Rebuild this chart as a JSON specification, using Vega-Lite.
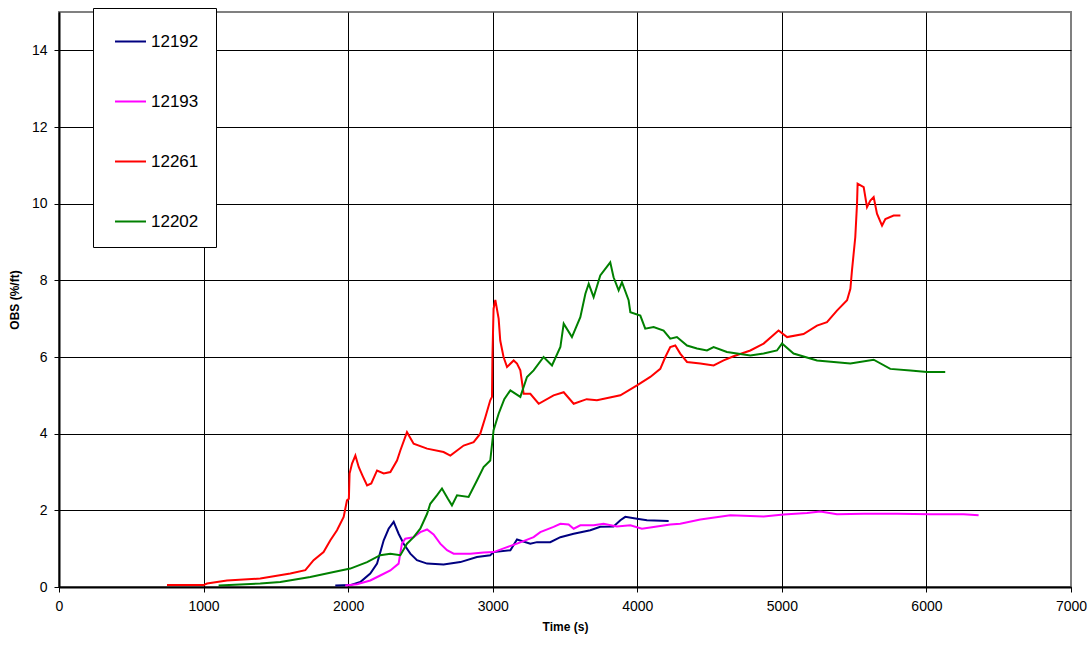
{
  "$schema": "https://vega.github.io/schema/vega-lite/v6.json",
  "width": 1012,
  "height": 575,
  "autosize": "none",
  "padding": {"left": 59, "top": 12, "right": 20, "bottom": 58},
  "background": "white",
  "config": {
    "font": "Liberation Sans",
    "view": {"stroke": "#808080", "strokeWidth": 2}
  },
  "datasets": {
    "obs": [
      {"s":"12192","t":1911,"v":0.04},{"s":"12192","t":2015,"v":0.05},{"s":"12192","t":2084,"v":0.13},{"s":"12192","t":2153,"v":0.35},{"s":"12192","t":2200,"v":0.61},{"s":"12192","t":2246,"v":1.22},{"s":"12192","t":2280,"v":1.52},{"s":"12192","t":2315,"v":1.7},{"s":"12192","t":2349,"v":1.39},{"s":"12192","t":2384,"v":1.13},{"s":"12192","t":2430,"v":0.87},{"s":"12192","t":2476,"v":0.7},{"s":"12192","t":2546,"v":0.61},{"s":"12192","t":2660,"v":0.59},{"s":"12192","t":2776,"v":0.65},{"s":"12192","t":2891,"v":0.78},{"s":"12192","t":2983,"v":0.83},{"s":"12192","t":3006,"v":0.91},{"s":"12192","t":3122,"v":0.96},{"s":"12192","t":3168,"v":1.24},{"s":"12192","t":3260,"v":1.13},{"s":"12192","t":3306,"v":1.17},{"s":"12192","t":3398,"v":1.17},{"s":"12192","t":3468,"v":1.3},{"s":"12192","t":3560,"v":1.39},{"s":"12192","t":3675,"v":1.48},{"s":"12192","t":3744,"v":1.57},{"s":"12192","t":3836,"v":1.58},{"s":"12192","t":3883,"v":1.74},{"s":"12192","t":3917,"v":1.83},{"s":"12192","t":3998,"v":1.78},{"s":"12192","t":4067,"v":1.74},{"s":"12192","t":4217,"v":1.72},
      {"s":"12193","t":1980,"v":0.04},{"s":"12193","t":2061,"v":0.07},{"s":"12193","t":2153,"v":0.17},{"s":"12193","t":2222,"v":0.3},{"s":"12193","t":2292,"v":0.43},{"s":"12193","t":2349,"v":0.61},{"s":"12193","t":2372,"v":1.13},{"s":"12193","t":2395,"v":1.26},{"s":"12193","t":2453,"v":1.3},{"s":"12193","t":2499,"v":1.43},{"s":"12193","t":2546,"v":1.5},{"s":"12193","t":2591,"v":1.37},{"s":"12193","t":2637,"v":1.13},{"s":"12193","t":2684,"v":0.96},{"s":"12193","t":2730,"v":0.87},{"s":"12193","t":2845,"v":0.87},{"s":"12193","t":2937,"v":0.9},{"s":"12193","t":3006,"v":0.91},{"s":"12193","t":3099,"v":1.04},{"s":"12193","t":3168,"v":1.13},{"s":"12193","t":3283,"v":1.3},{"s":"12193","t":3329,"v":1.43},{"s":"12193","t":3421,"v":1.57},{"s":"12193","t":3468,"v":1.65},{"s":"12193","t":3525,"v":1.63},{"s":"12193","t":3560,"v":1.52},{"s":"12193","t":3606,"v":1.61},{"s":"12193","t":3698,"v":1.61},{"s":"12193","t":3767,"v":1.65},{"s":"12193","t":3859,"v":1.58},{"s":"12193","t":3952,"v":1.61},{"s":"12193","t":4032,"v":1.52},{"s":"12193","t":4136,"v":1.58},{"s":"12193","t":4228,"v":1.63},{"s":"12193","t":4297,"v":1.65},{"s":"12193","t":4436,"v":1.76},{"s":"12193","t":4643,"v":1.87},{"s":"12193","t":4874,"v":1.84},{"s":"12193","t":5012,"v":1.89},{"s":"12193","t":5174,"v":1.93},{"s":"12193","t":5266,"v":1.97},{"s":"12193","t":5381,"v":1.9},{"s":"12193","t":5566,"v":1.91},{"s":"12193","t":5797,"v":1.91},{"s":"12193","t":6027,"v":1.9},{"s":"12193","t":6257,"v":1.9},{"s":"12193","t":6361,"v":1.87},
      {"s":"12261","t":747,"v":0.05},{"s":"12261","t":1000,"v":0.05},{"s":"12261","t":1024,"v":0.09},{"s":"12261","t":1162,"v":0.17},{"s":"12261","t":1392,"v":0.22},{"s":"12261","t":1600,"v":0.35},{"s":"12261","t":1704,"v":0.44},{"s":"12261","t":1761,"v":0.7},{"s":"12261","t":1830,"v":0.91},{"s":"12261","t":1877,"v":1.22},{"s":"12261","t":1923,"v":1.48},{"s":"12261","t":1969,"v":1.83},{"s":"12261","t":1992,"v":2.26},{"s":"12261","t":2005,"v":2.3},{"s":"12261","t":2010,"v":2.96},{"s":"12261","t":2027,"v":3.22},{"s":"12261","t":2050,"v":3.43},{"s":"12261","t":2073,"v":3.13},{"s":"12261","t":2100,"v":2.9},{"s":"12261","t":2131,"v":2.65},{"s":"12261","t":2160,"v":2.7},{"s":"12261","t":2200,"v":3.04},{"s":"12261","t":2246,"v":2.96},{"s":"12261","t":2292,"v":3.0},{"s":"12261","t":2338,"v":3.3},{"s":"12261","t":2361,"v":3.56},{"s":"12261","t":2407,"v":4.04},{"s":"12261","t":2453,"v":3.74},{"s":"12261","t":2546,"v":3.61},{"s":"12261","t":2660,"v":3.52},{"s":"12261","t":2707,"v":3.43},{"s":"12261","t":2799,"v":3.69},{"s":"12261","t":2868,"v":3.78},{"s":"12261","t":2914,"v":4.0},{"s":"12261","t":2949,"v":4.43},{"s":"12261","t":2983,"v":4.87},{"s":"12261","t":2995,"v":4.96},{"s":"12261","t":2998,"v":6.0},{"s":"12261","t":3006,"v":7.26},{"s":"12261","t":3018,"v":7.49},{"s":"12261","t":3041,"v":7.0},{"s":"12261","t":3052,"v":6.43},{"s":"12261","t":3075,"v":6.0},{"s":"12261","t":3099,"v":5.74},{"s":"12261","t":3145,"v":5.91},{"s":"12261","t":3168,"v":5.83},{"s":"12261","t":3191,"v":5.65},{"s":"12261","t":3214,"v":5.04},{"s":"12261","t":3260,"v":5.04},{"s":"12261","t":3318,"v":4.78},{"s":"12261","t":3421,"v":5.0},{"s":"12261","t":3491,"v":5.08},{"s":"12261","t":3560,"v":4.78},{"s":"12261","t":3650,"v":4.9},{"s":"12261","t":3721,"v":4.87},{"s":"12261","t":3883,"v":5.0},{"s":"12261","t":3998,"v":5.26},{"s":"12261","t":4090,"v":5.48},{"s":"12261","t":4159,"v":5.69},{"s":"12261","t":4194,"v":6.0},{"s":"12261","t":4228,"v":6.26},{"s":"12261","t":4263,"v":6.3},{"s":"12261","t":4297,"v":6.09},{"s":"12261","t":4344,"v":5.87},{"s":"12261","t":4436,"v":5.83},{"s":"12261","t":4528,"v":5.78},{"s":"12261","t":4597,"v":5.91},{"s":"12261","t":4666,"v":6.02},{"s":"12261","t":4782,"v":6.17},{"s":"12261","t":4874,"v":6.35},{"s":"12261","t":4977,"v":6.69},{"s":"12261","t":5036,"v":6.52},{"s":"12261","t":5150,"v":6.6},{"s":"12261","t":5243,"v":6.82},{"s":"12261","t":5312,"v":6.91},{"s":"12261","t":5381,"v":7.21},{"s":"12261","t":5451,"v":7.48},{"s":"12261","t":5474,"v":7.78},{"s":"12261","t":5485,"v":8.26},{"s":"12261","t":5508,"v":9.13},{"s":"12261","t":5520,"v":10.0},{"s":"12261","t":5524,"v":10.52},{"s":"12261","t":5566,"v":10.43},{"s":"12261","t":5589,"v":9.91},{"s":"12261","t":5612,"v":10.08},{"s":"12261","t":5635,"v":10.17},{"s":"12261","t":5658,"v":9.74},{"s":"12261","t":5693,"v":9.43},{"s":"12261","t":5716,"v":9.6},{"s":"12261","t":5773,"v":9.69},{"s":"12261","t":5820,"v":9.69},
      {"s":"12202","t":1104,"v":0.04},{"s":"12202","t":1392,"v":0.09},{"s":"12202","t":1531,"v":0.13},{"s":"12202","t":1738,"v":0.26},{"s":"12202","t":1900,"v":0.39},{"s":"12202","t":2015,"v":0.48},{"s":"12202","t":2131,"v":0.65},{"s":"12202","t":2222,"v":0.83},{"s":"12202","t":2292,"v":0.87},{"s":"12202","t":2361,"v":0.83},{"s":"12202","t":2407,"v":1.13},{"s":"12202","t":2453,"v":1.3},{"s":"12202","t":2499,"v":1.52},{"s":"12202","t":2546,"v":1.91},{"s":"12202","t":2568,"v":2.17},{"s":"12202","t":2614,"v":2.39},{"s":"12202","t":2649,"v":2.57},{"s":"12202","t":2690,"v":2.3},{"s":"12202","t":2718,"v":2.13},{"s":"12202","t":2753,"v":2.39},{"s":"12202","t":2833,"v":2.35},{"s":"12202","t":2891,"v":2.78},{"s":"12202","t":2937,"v":3.13},{"s":"12202","t":2983,"v":3.3},{"s":"12202","t":3006,"v":4.09},{"s":"12202","t":3041,"v":4.52},{"s":"12202","t":3080,"v":4.9},{"s":"12202","t":3122,"v":5.13},{"s":"12202","t":3191,"v":4.96},{"s":"12202","t":3237,"v":5.48},{"s":"12202","t":3283,"v":5.65},{"s":"12202","t":3352,"v":6.0},{"s":"12202","t":3410,"v":5.78},{"s":"12202","t":3468,"v":6.26},{"s":"12202","t":3491,"v":6.87},{"s":"12202","t":3548,"v":6.52},{"s":"12202","t":3606,"v":7.04},{"s":"12202","t":3641,"v":7.65},{"s":"12202","t":3664,"v":7.91},{"s":"12202","t":3698,"v":7.56},{"s":"12202","t":3744,"v":8.13},{"s":"12202","t":3813,"v":8.47},{"s":"12202","t":3836,"v":8.08},{"s":"12202","t":3871,"v":7.74},{"s":"12202","t":3894,"v":7.95},{"s":"12202","t":3940,"v":7.48},{"s":"12202","t":3952,"v":7.17},{"s":"12202","t":4021,"v":7.08},{"s":"12202","t":4055,"v":6.74},{"s":"12202","t":4113,"v":6.78},{"s":"12202","t":4182,"v":6.69},{"s":"12202","t":4228,"v":6.48},{"s":"12202","t":4274,"v":6.52},{"s":"12202","t":4344,"v":6.3},{"s":"12202","t":4413,"v":6.22},{"s":"12202","t":4482,"v":6.17},{"s":"12202","t":4528,"v":6.26},{"s":"12202","t":4620,"v":6.13},{"s":"12202","t":4690,"v":6.09},{"s":"12202","t":4782,"v":6.04},{"s":"12202","t":4874,"v":6.09},{"s":"12202","t":4966,"v":6.17},{"s":"12202","t":5001,"v":6.35},{"s":"12202","t":5081,"v":6.09},{"s":"12202","t":5243,"v":5.91},{"s":"12202","t":5474,"v":5.83},{"s":"12202","t":5635,"v":5.93},{"s":"12202","t":5750,"v":5.69},{"s":"12202","t":5889,"v":5.65},{"s":"12202","t":6004,"v":5.61},{"s":"12202","t":6130,"v":5.61}
    ]
  },
  "data": {"name": "obs"},
  "mark": {"type": "line", "strokeWidth": 2, "interpolate": "linear"},
  "encoding": {
    "x": {
      "field": "t", "type": "quantitative",
      "scale": {"domain": [0, 7000], "nice": false, "zero": false},
      "axis": {
        "title": "Time (s)", "values": [0,1000,2000,3000,4000,5000,6000,7000], "format": "d",
        "titleFontSize": 12, "titleFontWeight": "bold", "titleColor": "black", "titlePadding": 8,
        "labelFontSize": 14, "labelColor": "black", "labelPadding": 7, "labelFlush": false,
        "domainColor": "black", "domainWidth": 2,
        "tickColor": "black", "tickSize": 5,
        "grid": true,
        "gridColor": {"condition": {"test": "datum.value === 7000", "value": "#808080"}, "value": "black"}
      }
    },
    "y": {
      "field": "v", "type": "quantitative",
      "scale": {"domain": [0, 15], "nice": false},
      "axis": {
        "title": "OBS (%/ft)", "values": [0,2,4,6,8,10,12,14],
        "titleFontSize": 12, "titleFontWeight": "bold", "titleColor": "black", "titlePadding": 10,
        "labelFontSize": 14, "labelColor": "black", "labelPadding": 7, "labelFlush": false,
        "domainColor": "black", "domainWidth": 2,
        "tickColor": "black", "tickSize": 5,
        "grid": true, "gridColor": "black"
      }
    },
    "color": {
      "field": "s", "type": "nominal",
      "scale": {"domain": ["12192","12193","12261","12202"], "range": ["#000080","#FF00FF","#FF0000","#008000"]},
      "legend": {
        "title": null, "orient": "none", "legendX": 34, "legendY": -4,
        "fillColor": "white", "strokeColor": "black",
        "padding": 17, "symbolOffset": 4,
        "symbolType": "stroke", "symbolSize": 961, "symbolStrokeWidth": 2,
        "labelFontSize": 17, "labelColor": "black", "labelOffset": 4,
        "rowPadding": 35
      }
    }
  }
}
